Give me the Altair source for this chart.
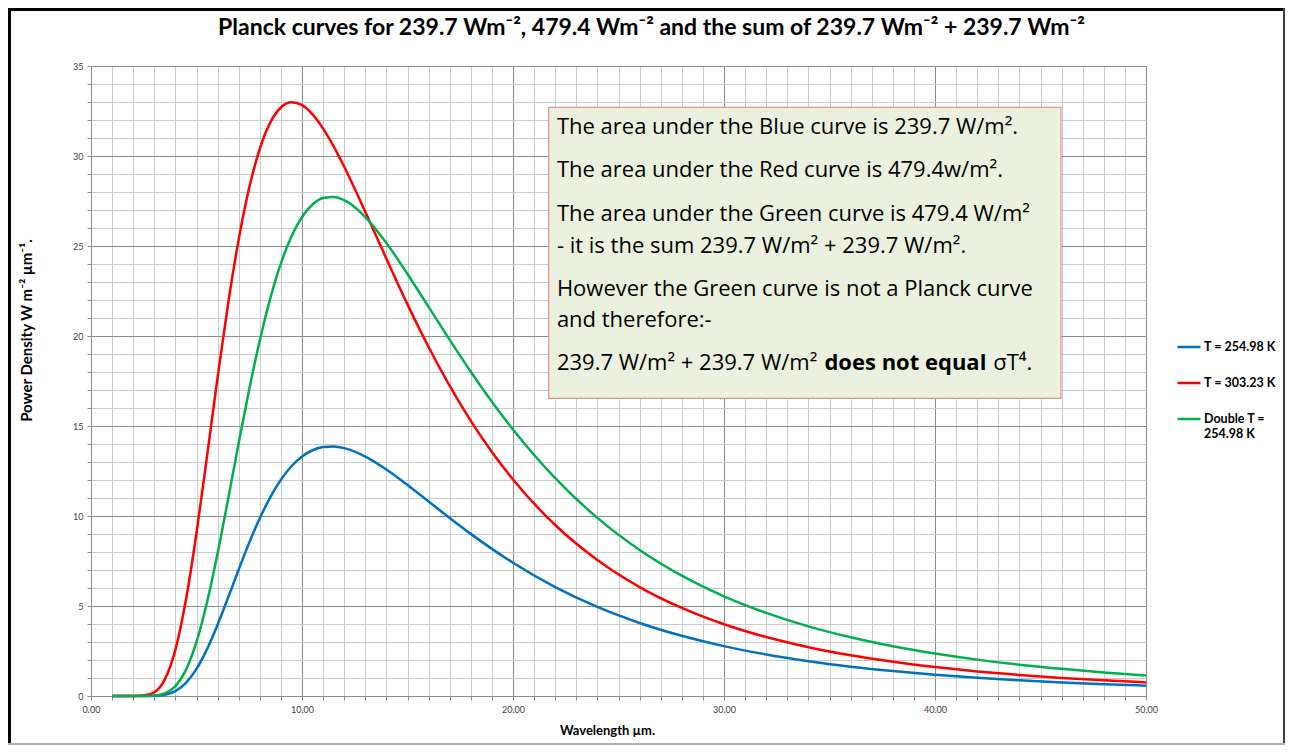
import altair as alt
import pandas as pd

# ---------------- data ----------------
wavelength_um = [1, 2, 2.5, 3, 3.5, 4, 4.5, 5, 5.5, 6, 6.5, 7, 7.5, 8, 8.5, 9, 9.5, 10,
                 10.5, 11, 11.5, 12, 13, 14, 15, 16, 17, 18, 19, 20, 22, 24, 26, 28,
                 30, 32, 34, 36, 38, 40, 42, 44, 46, 48, 50]

blue_254_98K = [0, 0, 0.0006, 0.0104, 0.071, 0.273, 0.726, 1.503, 2.603, 3.963, 5.475,
                7.028, 8.521, 9.879, 11.052, 12.016, 12.763, 13.304, 13.652, 13.831,
                13.862, 13.771, 13.303, 12.582, 11.723, 10.809, 9.892, 9.007, 8.173,
                7.401, 6.051, 4.947, 4.058, 3.343, 2.770, 2.308, 1.934, 1.631, 1.383,
                1.179, 1.011, 0.871, 0.754, 0.656, 0.573]

red_303_23K = [0, 0.0006, 0.0219, 0.208, 0.923, 2.577, 5.343, 9.056, 13.323, 17.701,
               21.805, 25.367, 28.249, 30.403, 31.865, 32.694, 32.982, 32.823, 32.309,
               31.524, 30.532, 29.400, 26.896, 24.293, 21.756, 19.388, 17.225, 15.282,
               13.554, 12.025, 9.499, 7.554, 6.053, 4.892, 3.986, 3.275, 2.712, 2.262,
               1.900, 1.606, 1.367, 1.170, 1.006, 0.870, 0.756]

green_double_254_98K = [0, 0, 0.0012, 0.0209, 0.142, 0.546, 1.452, 3.006, 5.207, 7.925,
                        10.950, 14.056, 17.042, 19.758, 22.104, 24.032, 25.526, 26.608,
                        27.304, 27.662, 27.724, 27.542, 26.606, 25.164, 23.446, 21.618,
                        19.784, 18.014, 16.346, 14.802, 12.102, 9.894, 8.116, 6.686,
                        5.540, 4.616, 3.868, 3.262, 2.766, 2.359, 2.021, 1.742, 1.508,
                        1.311, 1.145]

series_labels = ["T = 254.98 K", "T = 303.23 K", "Double T = 254.98 K"]
series_values = [blue_254_98K, red_303_23K, green_double_254_98K]

x_ticks = list(range(0, 51))
y_ticks = list(range(0, 36))

title_text = ("Planck curves for 239.7 Wm\u207b\u00b2, 479.4 Wm\u207b\u00b2 and the sum of "
              "239.7 Wm\u207b\u00b2 + 239.7 Wm\u207b\u00b2")
x_title = "Wavelength \u00b5m."
y_title = "Power Density  W m\u207b\u00b2 \u00b5m\u207b\u00b9."

note_lines = [
    "The area under the Blue curve is 239.7 W/m\u00b2.",
    "The area under the Red curve is 479.4w/m\u00b2.",
    "The area under the Green curve is 479.4 W/m\u00b2",
    "- it is the sum 239.7 W/m\u00b2 + 239.7 W/m\u00b2.",
    "However the Green curve is not a Planck curve",
    "and therefore:-",
    "239.7 W/m\u00b2 + 239.7 W/m\u00b2",
]
note_bold = "does not equal"
note_tail = "\u03c3T\u2074."

# ---------------- annotation placement (data units) ----------------
note_line_y = [31.22, 28.82, 26.41, 24.63, 22.25, 20.52, 18.11]
note_x = 22.08
note_bold_x = 34.76
note_tail_x = 42.76
box_x, box_x2, box_y, box_y2 = 21.69, 45.97, 32.706, 16.539

# ---------------- styles ----------------
series_colors = ["#0070c0", "#ff0000", "#00b050"]
FONT = "Lato"
NOTE_FONT = "Open Sans"
GRID_MAJOR = "#8c8c8c"
GRID_MINOR = "#cccccc"

rows = []
for name, vals in zip(series_labels, series_values):
    for w, v in zip(wavelength_um, vals):
        rows.append({"wavelength": w, "density": v, "series": name})
df = pd.DataFrame(rows)

x_scale = alt.Scale(domain=[0, 50], nice=False, zero=False)
y_scale = alt.Scale(domain=[0, 35], nice=False, zero=False)

x_axis = alt.Axis(
    title=x_title, values=x_ticks,
    labelExpr="datum.value % 10 === 0 ? format(datum.value, '.2f') : ''",
    labelOverlap=False, labelFlush=False, labelFont=FONT, labelFontSize=9,
    labelColor="#404040", labelPadding=5,
    grid=True,
    gridColor={"condition": {"test": "datum.value % 10 === 0", "value": GRID_MAJOR},
               "value": GRID_MINOR},
    gridWidth=1, tickColor=GRID_MAJOR, tickSize=4, domainColor=GRID_MAJOR,
    titleFont=FONT, titleFontSize=13, titleFontWeight="bold", titleColor="black",
    titleX=516, titleY=38, titleBaseline="alphabetic", titleAlign="center",
)
y_axis = alt.Axis(
    title=y_title, values=y_ticks,
    labelExpr="datum.value % 5 === 0 ? datum.label : ''",
    labelOverlap=False, labelFlush=False, labelFont=FONT, labelFontSize=9,
    labelColor="#404040", labelPadding=4,
    grid=True,
    gridColor={"condition": {"test": "datum.value % 5 === 0", "value": GRID_MAJOR},
               "value": GRID_MINOR},
    gridWidth=1, tickColor=GRID_MAJOR, tickSize=4, domainColor=GRID_MAJOR,
    titleFont=FONT, titleFontSize=15, titleFontWeight="bold", titleColor="black",
    titleAngle=270, titleX=-60, titleY=264, titleBaseline="alphabetic",
    titleAlign="center",
)

X = alt.X("wavelength:Q", scale=x_scale, axis=x_axis)
Y = alt.Y("density:Q", scale=y_scale, axis=y_axis)

lines = alt.Chart(df).mark_line(strokeWidth=2.5, interpolate="monotone").encode(
    x=X, y=Y,
    color=alt.Color(
        "series:N",
        scale=alt.Scale(domain=series_labels, range=series_colors),
        legend=alt.Legend(
            title=None, orient="none", legendX=1085, legendY=268,
            symbolType="stroke", symbolSize=529, symbolStrokeWidth=2.5,
            labelFont=FONT, labelFontSize=12.5, labelFontWeight="bold",
            labelColor="black", labelOffset=2, rowPadding=16,
            labelBaseline="middle",
            labelExpr="datum.label === 'Double T = 254.98 K' ? ['Double T =', '254.98 K'] : datum.label",
        ),
    ),
)

box_df = pd.DataFrame({"wavelength": [box_x], "wavelength2": [box_x2],
                       "density": [box_y], "density2": [box_y2]})
box = alt.Chart(box_df).mark_rect(fill="#ebf1de", stroke="#d99694", strokeWidth=1.2).encode(
    x=X, x2="wavelength2:Q", y=Y, y2="density2:Q")

notes_df = pd.DataFrame({"wavelength": [note_x] * len(note_lines),
                         "density": note_line_y, "text": note_lines})
notes = alt.Chart(notes_df).mark_text(
    align="left", baseline="alphabetic", font=NOTE_FONT, fontSize=22, color="black"
).encode(x=X, y=Y, text="text:N")

bold_df = pd.DataFrame({"wavelength": [note_bold_x], "density": [note_line_y[-1]],
                        "text": [note_bold]})
bold_note = alt.Chart(bold_df).mark_text(
    align="left", baseline="alphabetic", font=NOTE_FONT, fontSize=22, fontWeight="bold",
    color="black").encode(x=X, y=Y, text="text:N")

tail_df = pd.DataFrame({"wavelength": [note_tail_x], "density": [note_line_y[-1]],
                        "text": [note_tail]})
tail_note = alt.Chart(tail_df).mark_text(
    align="left", baseline="alphabetic", font=NOTE_FONT, fontSize=22, color="black"
).encode(x=X, y=Y, text="text:N")

# chart title drawn as a text mark centred over the chart frame
title_df = pd.DataFrame({"text": [title_text]})
title_mark = alt.Chart(title_df).mark_text(
    align="center", baseline="alphabetic", font=FONT, fontSize=23, fontWeight="bold",
    color="black").encode(x=alt.value(560.5), y=alt.value(-31), text="text:N")

one = pd.DataFrame({"k": [0]})
border_top = alt.Chart(one).mark_rule(color="black", strokeWidth=3).encode(
    x=alt.value(-83), x2=alt.value(1194), y=alt.value(-56.5))
border_left = alt.Chart(one).mark_rule(color="black", strokeWidth=3).encode(
    x=alt.value(-81.5), y=alt.value(-58), y2=alt.value(679))
border_right = alt.Chart(one).mark_rule(color="#404040", strokeWidth=2).encode(
    x=alt.value(1193), y=alt.value(-58), y2=alt.value(679))
border_bottom = alt.Chart(one).mark_rule(color="#b0b0b0", strokeWidth=2).encode(
    x=alt.value(-83), x2=alt.value(1194), y=alt.value(678))

chart = alt.layer(
    lines, box, notes, bold_note, tail_note, title_mark,
    border_top, border_left, border_right, border_bottom,
).properties(
    width=1055, height=630,
    padding={"left": 83, "top": 58, "right": 139, "bottom": 49},
    autosize=alt.AutoSizeParams(type="none"),
    background="white",
).configure_view(stroke=None)

chart.save("out.html", embed_options={"renderer": "svg", "actions": False})
